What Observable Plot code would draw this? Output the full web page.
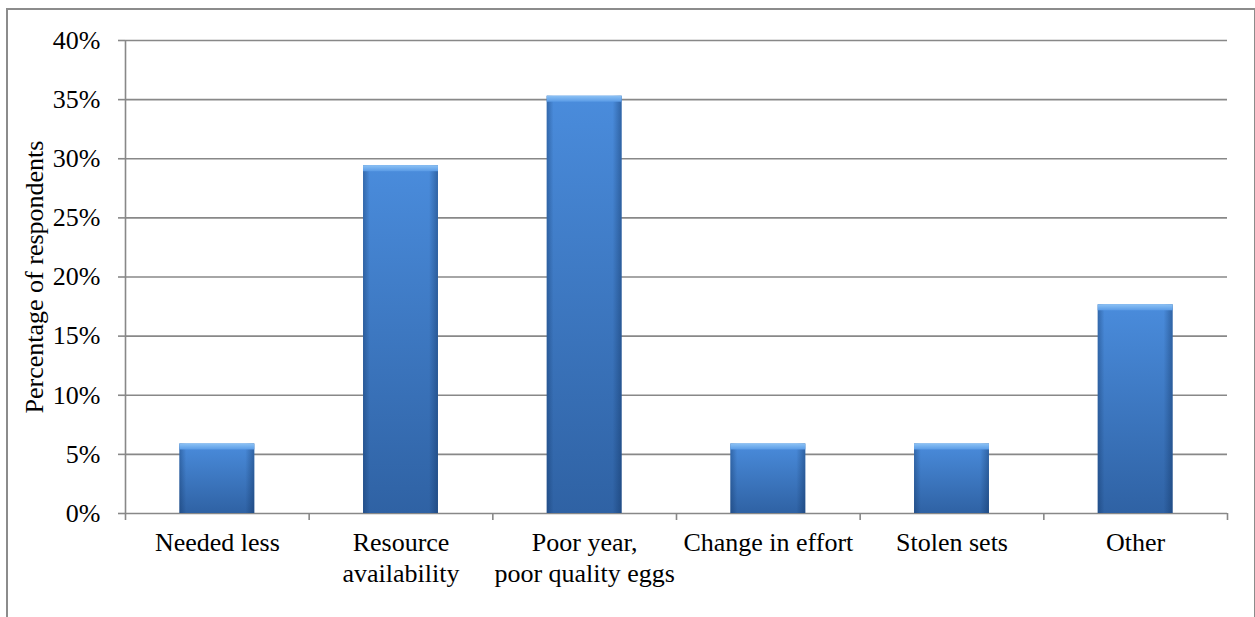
<!DOCTYPE html>
<html>
<head>
<meta charset="utf-8">
<script src="https://cdn.jsdelivr.net/npm/d3@7"></script>
<script src="https://cdn.jsdelivr.net/npm/@observablehq/plot@0.6"></script>
<style>
  html, body { margin: 0; padding: 0; background: #fff; }
  #wrap { position: relative; width: 1255px; height: 617px; overflow: hidden; }
  #frame { position: absolute; left: 6px; top: 8px; width: 1250px; height: 640px; border: 2px solid #8c8c8c; box-sizing: border-box; }
  #chart { position: absolute; left: 0; top: 0; }
</style>
</head>
<body>
<div id="wrap"><div id="frame"></div><div id="chart"></div></div>
<script>
const categories = ["Needed less", "Resource\navailability", "Poor year,\npoor quality eggs", "Change in effort", "Stolen sets", "Other"];
const values = [0.0588, 0.2941, 0.3529, 0.0588, 0.0588, 0.1765];
const yTicks = [0, 0.05, 0.10, 0.15, 0.20, 0.25, 0.30, 0.35, 0.40];
const yLabel = "Percentage of respondents";

const data = categories.map((c, i) => ({category: c, index: i, value: values[i]}));
const font = "Liberation Serif";
const gridColor = "#888888";
const fs = 26;

const plot = Plot.plot({
  width: 1255,
  height: 617,
  marginLeft: 125,
  marginRight: 28,
  marginTop: 40,
  marginBottom: 104,
  style: {fontFamily: font, fontSize: fs + "px", color: "#000", background: "transparent"},
  x: {type: "linear", domain: [0, categories.length]},
  y: {domain: [0, 0.4]},
  marks: [
    Plot.gridY(yTicks, {stroke: gridColor, strokeOpacity: 1, strokeWidth: 1.6}),
    Plot.axisY(yTicks, {tickSize: 7, tickPadding: 18, tickFormat: d3.format(".0%"), stroke: gridColor, strokeWidth: 1.6, fontSize: fs, fill: "#000", label: null}),
    Plot.axisX(d3.range(categories.length + 1), {tickSize: 7, tickFormat: () => "", stroke: gridColor, strokeWidth: 1.6, label: null}),
    Plot.ruleX([0], {stroke: gridColor, strokeWidth: 1.6}),
    // bars
    Plot.rectY(data, {x1: d => d.index + 0.296, x2: d => d.index + 0.704, y1: 0, y2: "value", fill: "url(#barGrad)"}),
    Plot.rectY(data, {x1: d => d.index + 0.296, x2: d => d.index + 0.704, y1: 0, y2: "value", fill: "url(#barSide)"}),
    Plot.rectY(data, {x1: d => d.index + 0.296, x2: d => d.index + 0.704, y1: "value", y2: "value", insetBottom: -6, fill: "url(#bevel)"}),
    Plot.text(data, {x: d => d.index + 0.5, y: 0, text: "category", lineAnchor: "top", dy: 15, lineHeight: 1.2, fontSize: fs, fill: "#000"}),
    Plot.text([yLabel], {frameAnchor: "left", textAnchor: "middle", rotate: -90, dx: -91, fontSize: fs, fill: "#000"})
  ]
});

const defs = d3.create("svg:defs");
const g1 = defs.append("linearGradient").attr("id", "barGrad").attr("x1", 0).attr("y1", 0).attr("x2", 0).attr("y2", 1);
g1.append("stop").attr("offset", "0%").attr("stop-color", "#4a8cdc");
g1.append("stop").attr("offset", "100%").attr("stop-color", "#2f62a4");
const g2 = defs.append("linearGradient").attr("id", "barSide").attr("x1", 0).attr("y1", 0).attr("x2", 1).attr("y2", 0);
g2.append("stop").attr("offset", "0%").attr("stop-color", "#0b2a55").attr("stop-opacity", 0.35);
g2.append("stop").attr("offset", "9%").attr("stop-color", "#0b2a55").attr("stop-opacity", 0.0);
g2.append("stop").attr("offset", "88%").attr("stop-color", "#0b2a55").attr("stop-opacity", 0.0);
g2.append("stop").attr("offset", "100%").attr("stop-color", "#0b2a55").attr("stop-opacity", 0.4);
const g3 = defs.append("linearGradient").attr("id", "bevel").attr("x1", 0).attr("y1", 0).attr("x2", 0).attr("y2", 1);
g3.append("stop").attr("offset", "0%").attr("stop-color", "#8cc2f5");
g3.append("stop").attr("offset", "100%").attr("stop-color", "#5a9be6");
plot.insertBefore(defs.node(), plot.firstChild);

document.getElementById("chart").appendChild(plot);
</script>
</body>
</html>
